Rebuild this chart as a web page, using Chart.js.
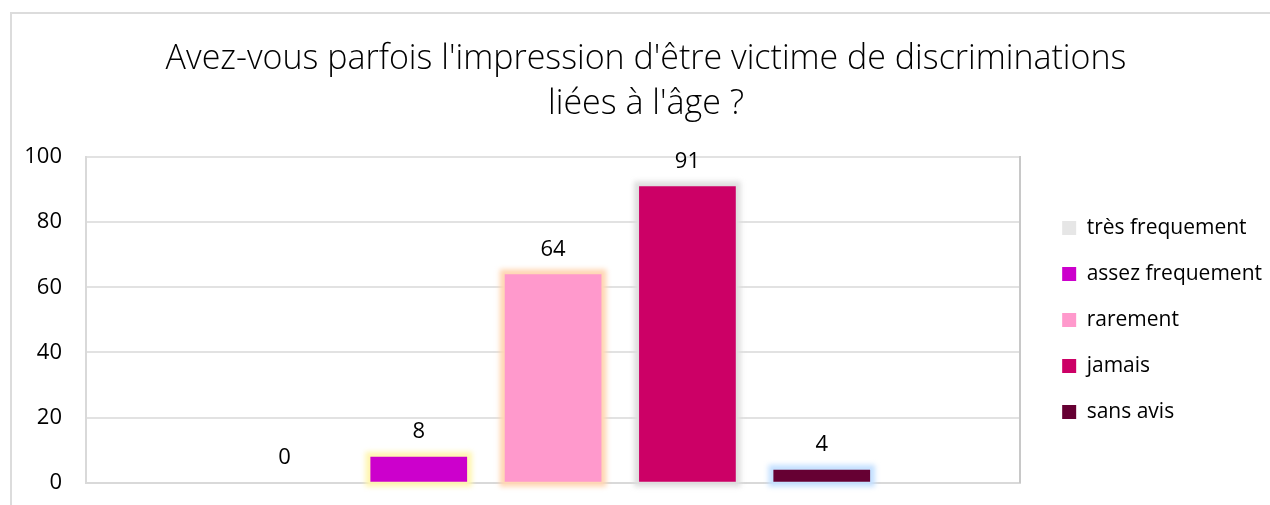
<!DOCTYPE html>
<html>
<head>
<meta charset="utf-8">
<script src="https://cdn.jsdelivr.net/npm/chart.js@4/dist/chart.umd.min.js"></script>
<style>
  html, body { margin: 0; padding: 0; background: #fff; overflow: hidden; }
  #frame {
    position: absolute; left: 10px; top: 12px;
    border-left: 2px solid #dcdcdc; border-top: 2px solid #dcdcdc;
    width: 1268px; height: 506px;
  }
  canvas { display: block; }
</style>
</head>
<body>
<div id="frame"><canvas id="chart" width="1268" height="506"></canvas></div>
<script>
// Survey answers
const titleLines = ["Avez-vous parfois l'impression d'être victime de discriminations", "liées à l'âge ?"];
const categories = ['très frequement', 'assez frequement', 'rarement', 'jamais', 'sans avis'];
const values = [0, 8, 64, 91, 4];
const yMin = 0;
const yMax = 100;
const yStep = 20;

// Styling
const barColors = ['#e6e6e6', '#cc00cc', '#ff99cc', '#cc0066', '#660033'];
const glowColors = [null, '#fff5b0', '#ffd6b3', '#dedede', '#c4e0ff'];
const FONT = "'Open Sans', 'DejaVu Sans', sans-serif";

Chart.defaults.font.family = FONT;
Chart.defaults.color = '#000';

// Soft halo painted behind each bar, sized from the bar element itself
const barGlow = {
  id: 'barGlow',
  beforeDatasetsDraw(chart) {
    const ctx = chart.ctx;
    ctx.save();
    ctx.filter = 'blur(2.5px)';
    chart.data.datasets.forEach((ds, i) => {
      const c = glowColors[i];
      if (!c) return;
      const meta = chart.getDatasetMeta(i);
      meta.data.forEach(el => {
        const { x, y, base, width } = el.getProps(['x', 'y', 'base', 'width'], true);
        const top = Math.min(y, base), h = Math.abs(base - y);
        const g = 5;
        ctx.fillStyle = c;
        ctx.fillRect(x - width / 2 - g, top - g, width + 2 * g, h + 2 * g);
      });
    });
    ctx.restore();
  }
};

// Value printed above each bar
const valueLabels = {
  id: 'valueLabels',
  afterDatasetsDraw(chart) {
    const ctx = chart.ctx;
    ctx.save();
    ctx.font = '22px ' + FONT;
    ctx.fillStyle = '#000';
    ctx.textAlign = 'center';
    ctx.textBaseline = 'middle';
    chart.data.datasets.forEach((ds, i) => {
      const meta = chart.getDatasetMeta(i);
      meta.data.forEach((el, j) => {
        ctx.fillText(String(ds.data[j]), el.x, el.y - 25);
      });
    });
    ctx.restore();
  }
};

new Chart(document.getElementById('chart'), {
  type: 'bar',
  data: {
    labels: [''],
    datasets: categories.map((name, i) => ({
      label: name,
      data: [values[i]],
      backgroundColor: barColors[i],
      borderWidth: 0,
      categoryPercentage: 0.719,
      barPercentage: 0.72
    }))
  },
  options: {
    responsive: false,
    animation: false,
    devicePixelRatio: 1,
    layout: { padding: { top: 0, right: 0, bottom: 0, left: 0 } },
    plugins: {
      title: {
        display: true,
        text: titleLines,
        color: '#000',
        font: { size: 34, weight: '300', lineHeight: 1.3235 },
        padding: { top: 23, bottom: 30 }
      },
      legend: {
        position: 'right',
        fullSize: false,
        align: 'center',
        maxWidth: 320,
        labels: {
          boxWidth: 14,
          boxHeight: 14,
          padding: 25,
          color: '#000',
          font: { size: 21 }
        }
      },
      tooltip: { enabled: false }
    },
    scales: {
      x: {
        type: 'category',
        grid: { display: false, drawTicks: false },
        ticks: { display: false },
        border: { display: true, color: '#d9d9d9', width: 2 },
        afterFit(s) { s.height = 0; }
      },
      y: {
        min: yMin,
        max: yMax,
        ticks: { stepSize: yStep, padding: 24, color: '#000', font: { size: 22 } },
        grid: { color: '#e2e2e2', lineWidth: 2, drawTicks: false },
        border: { display: true, color: '#d9d9d9', width: 2 },
        afterFit(s) { s.width = 74; }
      },
      // right edge of the plot frame, with a small gap before the legend
      yRight: {
        position: 'right',
        min: yMin,
        max: yMax,
        ticks: { display: false },
        grid: { display: false, drawTicks: false },
        border: { display: true, color: '#c8c8c8', width: 2 },
        afterFit(s) { s.width = 17; }
      },
      // empty margin to the right of the legend
      edge: {
        position: 'right',
        weight: 2000,
        min: yMin,
        max: yMax,
        ticks: { display: false },
        grid: { display: false, drawTicks: false },
        border: { display: false },
        afterFit(s) { s.width = 8; }
      }
    }
  },
  plugins: [barGlow, valueLabels]
});
</script>
</body>
</html>
